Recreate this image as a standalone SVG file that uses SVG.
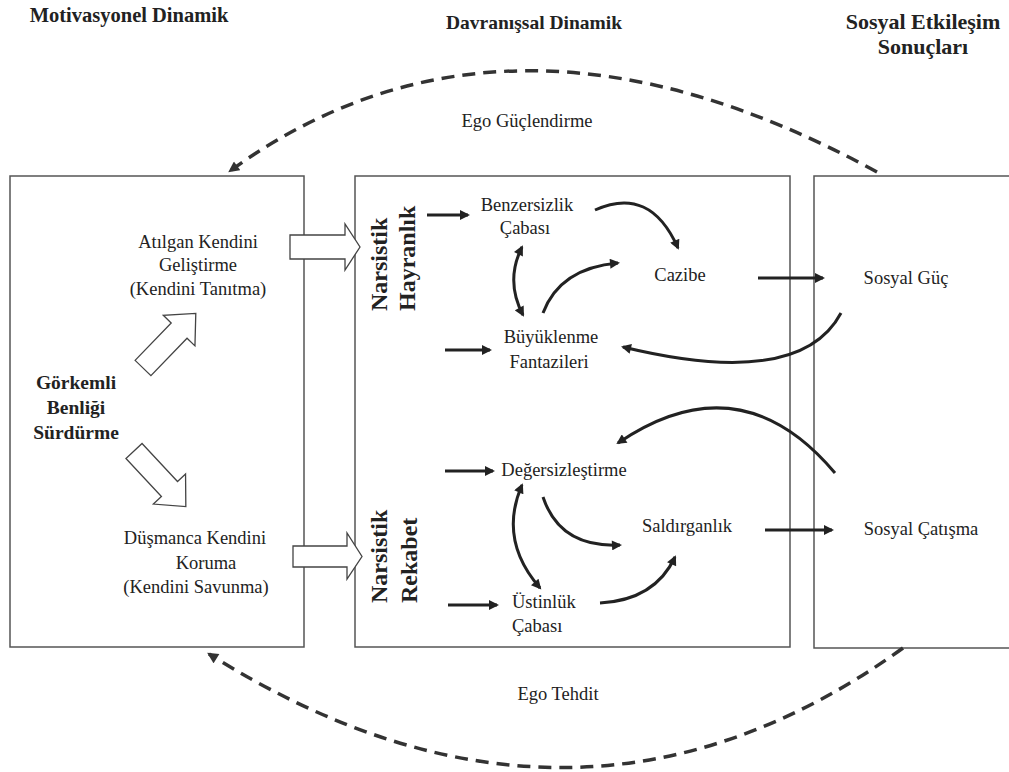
<svg xmlns="http://www.w3.org/2000/svg" width="1009" height="772" viewBox="0 0 1009 772">
<style>
text{font-family:"Liberation Serif","Times New Roman",Tinos,"DejaVu Serif",serif;fill:#222}
.box{fill:#fff;stroke:#555;stroke-width:1.5}
.hd{font-weight:bold;font-size:19.5px;text-anchor:middle}
.t{font-size:18.5px;text-anchor:middle}
.tb{font-weight:bold;font-size:19.5px;text-anchor:middle}
.rot{font-weight:bold;font-size:24px;text-anchor:start}
.bl{fill:#fff;stroke:#444;stroke-width:1.3}
.c{fill:none;stroke:#222;stroke-width:3}
.d{fill:none;stroke:#333;stroke-width:3.5;stroke-dasharray:13 8}
</style>
<defs>
<marker id="ah" viewBox="0 0 10 10" refX="8" refY="5" markerWidth="11" markerHeight="10" markerUnits="userSpaceOnUse" orient="auto-start-reverse">
<path d="M0,0 L10,5 L0,10 Z" fill="#222"/>
</marker>
<marker id="ahd" viewBox="0 0 10 10" refX="8" refY="5" markerWidth="12" markerHeight="11" markerUnits="userSpaceOnUse" orient="auto">
<path d="M0,0 L10,5 L0,10 Z" fill="#333"/>
</marker>
</defs>
<rect width="1009" height="772" fill="#fff"/>

<g id="headers">
<text class="hd" x="129" y="22" style="font-size:20.5px">Motivasyonel Dinamik</text>
<text class="hd" x="534" y="29">Davranışsal Dinamik</text>
<text class="hd" x="923" y="29" style="font-size:22px">Sosyal Etkileşim</text>
<text class="hd" x="923" y="54" style="font-size:22px">Sonuçları</text>
</g>

<g id="box-motivation">
<rect class="box" x="10" y="176" width="294" height="471"/>
</g>
<g id="box-behavior">
<rect class="box" x="355" y="176" width="435" height="471"/>
</g>
<g id="box-social">
<rect class="box" x="814" y="176" width="210" height="472"/>
</g>

<g id="node-gorkemli">
<text class="tb" x="76" y="389">Görkemli</text>
<text class="tb" x="76" y="414">Benliği</text>
<text class="tb" x="76" y="439">Sürdürme</text>
</g>
<g id="node-atilgan">
<text class="t" x="198" y="248">Atılgan Kendini</text>
<text class="t" x="198" y="271">Geliştirme</text>
<text class="t" x="198" y="295">(Kendini Tanıtma)</text>
</g>
<g id="node-dusmanca">
<text class="t" x="195" y="544">Düşmanca Kendini</text>
<text class="t" x="206" y="569">Koruma</text>
<text class="t" x="196" y="593">(Kendini Savunma)</text>
</g>

<g id="node-hayranlik">
<text class="rot" transform="translate(387,311) rotate(-90)">Narsistik</text>
<text class="rot" transform="translate(415,311) rotate(-90)">Hayranlık</text>
</g>
<g id="node-rekabet">
<text class="rot" transform="translate(387,603) rotate(-90)">Narsistik</text>
<text class="rot" transform="translate(417,603) rotate(-90)">Rekabet</text>
</g>

<g id="node-benzersizlik">
<text class="t" x="527" y="211">Benzersizlik</text>
<text class="t" x="525" y="234">Çabası</text>
</g>
<g id="node-cazibe">
<text class="t" x="680" y="281">Cazibe</text>
</g>
<g id="node-buyuklenme">
<text class="t" x="551" y="343">Büyüklenme</text>
<text class="t" x="549" y="368">Fantazileri</text>
</g>
<g id="node-degersizlestirme">
<text class="t" x="564" y="476">Değersizleştirme</text>
</g>
<g id="node-saldirganlik">
<text class="t" x="687" y="532">Saldırganlık</text>
</g>
<g id="node-ustinluk">
<text class="t" x="512" y="608" style="text-anchor:start">Üstinlük</text>
<text class="t" x="512" y="632" style="text-anchor:start">Çabası</text>
</g>
<g id="node-sosyal-guc">
<text class="t" x="906" y="284">Sosyal Güç</text>
</g>
<g id="node-sosyal-catisma">
<text class="t" x="921" y="535">Sosyal Çatışma</text>
</g>

<g id="connectors">
<polygon class="bl" transform="translate(143,368) rotate(-46)" points="0,-11 52,-11 52,-22 76,0 52,22 52,11 0,11"/>
<polygon class="bl" transform="translate(134,451) rotate(47)" points="0,-11 52,-11 52,-22 76,0 52,22 52,11 0,11"/>
<polygon class="bl" points="290,235 345,235 345,224 360,247 345,270 345,259 290,259"/>
<polygon class="bl" points="293,546 347,546 347,533 362,556.5 347,579 347,567 293,567"/>

<path class="d" d="M877,172 Q507,-30 230,171" marker-end="url(#ahd)"/>
<text class="t" x="527" y="127">Ego Güçlendirme</text>
<path class="d" d="M903,648 Q575,884 209,654" marker-end="url(#ahd)"/>
<text class="t" x="558" y="700">Ego Tehdit</text>

<path class="c" d="M427,215 L468,215" marker-end="url(#ah)"/>
<path class="c" d="M445,350 L490,350" marker-end="url(#ah)"/>
<path class="c" d="M595,210 Q650,185 678,248" marker-end="url(#ah)"/>
<path class="c" d="M522,247 Q505,281 523,315" marker-start="url(#ah)" marker-end="url(#ah)"/>
<path class="c" d="M543,313 Q560,268 618,263" marker-end="url(#ah)"/>
<path class="c" d="M758,278 L823,278" marker-end="url(#ah)"/>
<path class="c" d="M841,313 Q800,390 623,347" marker-end="url(#ah)"/>

<path class="c" d="M445,471 L493,471" marker-end="url(#ah)"/>
<path class="c" d="M448,605 L497,605" marker-end="url(#ah)"/>
<path class="c" d="M522,485 Q498,540 540,588" marker-start="url(#ah)" marker-end="url(#ah)"/>
<path class="c" d="M543,497 Q560,548 620,545" marker-end="url(#ah)"/>
<path class="c" d="M600,603 Q655,600 675,557" marker-end="url(#ah)"/>
<path class="c" d="M765,530 L832,530" marker-end="url(#ah)"/>
<path class="c" d="M835,473 Q740,360 618,443" marker-end="url(#ah)"/>
</g>
</svg>
